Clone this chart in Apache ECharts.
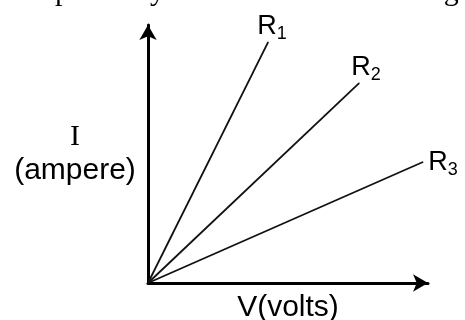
<!DOCTYPE html>
<html>
<head>
<meta charset="utf-8">
<script src="https://cdn.jsdelivr.net/npm/echarts@6/dist/echarts.min.js"></script>
<style>
  html, body { margin: 0; padding: 0; background: #fff; }
  #main { width: 465px; height: 320px; }
</style>
</head>
<body>
<div id="main"></div>
<script>
// resistors and the end point of each I-V line
var names = ["1", "2", "3"];
var endV = [4.29, 7.54, 9.82];
var endI = [9.34, 7.75, 4.69];
// label nudges (px) next to each line end
var labelOffset = [[4, 2], [7, 1], [20, 18]];

var chart = echarts.init(document.getElementById("main"));

var series = names.map(function (n, i) {
  return {
    type: "line",
    clip: false,
    silent: true,
    symbol: "circle",
    symbolSize: 1,
    showSymbol: true,
    itemStyle: { color: "#111" },
    lineStyle: { color: "#111", width: 1.8 },
    data: [
      { value: [0, 0], label: { show: false } },
      {
        value: [endV[i], endI[i]],
        label: {
          show: true,
          position: "top",
          distance: 0,
          offset: labelOffset[i],
          formatter: "{r|R}{s|" + n + "}",
          rich: {
            r: { fontFamily: "Liberation Sans", fontSize: 27, color: "#000", verticalAlign: "top", lineHeight: 28 },
            s: { fontFamily: "Liberation Sans", fontSize: 18, color: "#000", verticalAlign: "bottom", lineHeight: 30 }
          }
        }
      }
    ]
  };
});

var option = {
  animation: false,
  title: {
    text: "respectively. Which of the following",
    left: 15,
    top: -28,
    textStyle: { fontFamily: "Liberation Serif", fontSize: 30, fontWeight: "normal", color: "#000" }
  },
  grid: { left: 148, right: 37, top: 25, bottom: 37, outerBoundsMode: "none", containLabel: false },
  xAxis: {
    type: "value",
    min: 0,
    max: 10,
    name: "V(volts)",
    nameLocation: "middle",
    nameGap: 10,
    nameTextStyle: { fontFamily: "Liberation Sans", fontSize: 30, color: "#000", verticalAlign: "top" },
    axisLine: { lineStyle: { color: "#000", width: 3 }, symbol: ["none", "arrow"], symbolSize: [13, 15] },
    axisTick: { show: false },
    axisLabel: { show: false },
    splitLine: { show: false }
  },
  yAxis: {
    type: "value",
    min: 0,
    max: 10,
    name: "{i|I}\n{a|(ampere)}",
    nameLocation: "middle",
    nameRotate: 0,
    nameGap: 73,
    nameTextStyle: {
      align: "center",
      rich: {
        i: { fontFamily: "Liberation Serif", fontSize: 30, color: "#000", lineHeight: 34, align: "center" },
        a: { fontFamily: "Liberation Sans", fontSize: 30, color: "#000", lineHeight: 34, align: "center" }
      }
    },
    axisLine: { lineStyle: { color: "#000", width: 3 }, symbol: ["none", "arrow"], symbolSize: [13, 15] },
    axisTick: { show: false },
    axisLabel: { show: false },
    splitLine: { show: false }
  },
  series: series
};

chart.setOption(option);
</script>
</body>
</html>
